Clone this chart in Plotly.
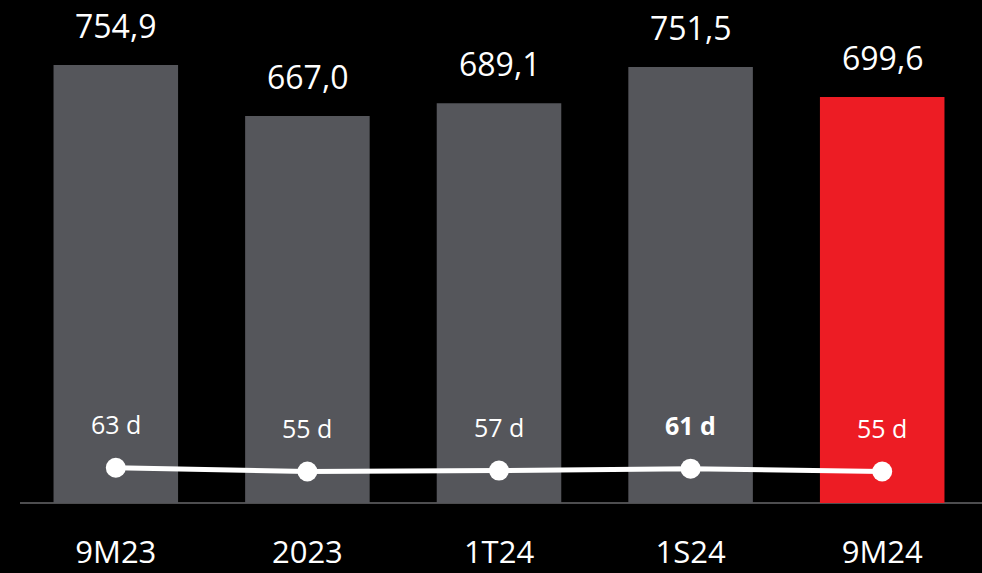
import plotly.graph_objects as go

categories = ["9M23", "2023", "1T24", "1S24", "9M24"]
values = [754.9, 667.0, 689.1, 751.5, 699.6]
value_labels = ["754,9", "667,0", "689,1", "751,5", "699,6"]
days = [63, 55, 57, 61, 55]
day_labels = ["63 d", "55 d", "57 d", "<b>61 d</b>", "55 d"]
bar_colors = ["#55565b", "#55565b", "#55565b", "#55565b", "#ed1c24"]

fig = go.Figure()
fig.add_trace(go.Bar(
    x=categories, y=values, marker=dict(color=bar_colors, line=dict(width=0)),
    hoverinfo="skip", showlegend=False,
))
fig.add_trace(go.Scatter(
    x=categories, y=days, yaxis="y2", mode="lines+markers",
    line=dict(color="white", width=5),
    marker=dict(color="white", size=20),
    showlegend=False,
))

annotations = []
for i, (v, t) in enumerate(zip(values, value_labels)):
    annotations.append(dict(x=i, y=v, xref="x", yref="y", text=t, showarrow=False,
                            yshift=40, font=dict(family="Open Sans", size=32, color="white")))
for i, (d, t) in enumerate(zip(days, day_labels)):
    annotations.append(dict(x=i, y=d, xref="x", yref="y2", text=t, showarrow=False,
                            yshift=44, font=dict(family="Open Sans", size=25, color="white")))

fig.update_layout(
    width=982, height=573,
    margin=dict(l=20, r=4, t=0, b=70),
    paper_bgcolor="black", plot_bgcolor="black",
    bargap=0.35,
    annotations=annotations,
    shapes=[dict(type="line", xref="paper", yref="paper", x0=0, x1=1.01, y0=0, y1=0,
                 line=dict(color="#4d4d4f", width=2), layer="below")],
    xaxis=dict(type="category", range=[-0.5, 4.5], showline=False,
               showgrid=False, zeroline=False, ticks="", automargin=False,
               tickfont=dict(family="Open Sans", size=31, color="white"),
               ticklabelstandoff=28),
    yaxis=dict(range=[0, 867], visible=False, showgrid=False, zeroline=False),
    yaxis2=dict(range=[-11.3, 1047.6], overlaying="y", visible=False, showgrid=False, zeroline=False),
)

fig.write_html("out.html", config={"displayModeBar": False},
               post_script="document.body.style.margin='0';document.body.style.background='black';")
